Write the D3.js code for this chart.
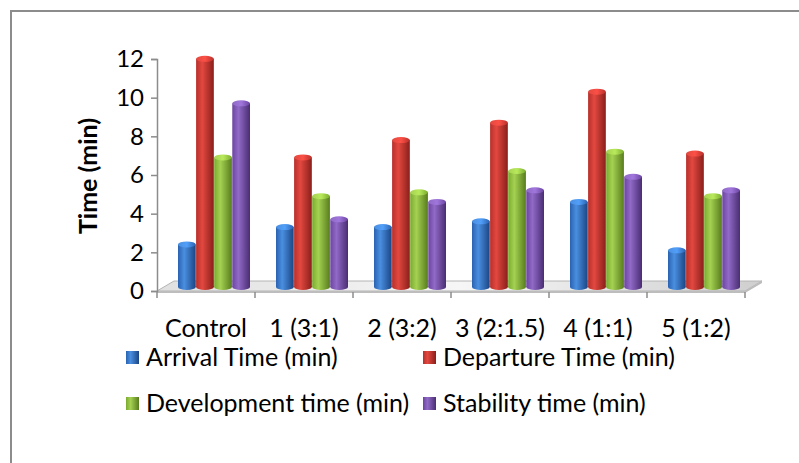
<!DOCTYPE html>
<html>
<head>
<meta charset="utf-8">
<script src="https://cdn.jsdelivr.net/npm/d3@7"></script>
<style>
  body { margin: 0; background: #fff; }
  text { font-family: Lato, "Open Sans", sans-serif; fill: #000; }
</style>
</head>
<body>
<div id="chart"></div>
<script>
// chart data
var categories = ["Control", "1 (3:1)", "2 (3:2)", "3 (2:1.5)", "4 (1:1)", "5 (1:2)"];
var seriesNames = ["Arrival Time (min)", "Departure Time (min)", "Development time (min)", "Stability time (min)"];
var arrival     = [2.2, 3.1, 3.1, 3.4, 4.4, 1.9];
var departure   = [11.8, 6.7, 7.6, 8.5, 10.1, 6.9];
var development = [6.7, 4.7, 4.9, 6.0, 7.0, 4.7];
var stability   = [9.5, 3.5, 4.4, 5.0, 5.7, 5.0];
var yTicks = [0, 2, 4, 6, 8, 10, 12];

var seriesValues = [arrival, departure, development, stability];
// [edge, highlight, dark edge]
var seriesColors = [
  ["#2a62b0", "#4a8fe0", "#1b4584"],
  ["#b8302c", "#e2483f", "#8a1f1b"],
  ["#7aab2e", "#a5d152", "#577d1d"],
  ["#6b45a0", "#906ac6", "#4a2d73"]
];

var width = 799, height = 463;
var svg = d3.select("#chart").append("svg")
  .attr("width", width)
  .attr("height", height);

var defs = svg.append("defs");
seriesColors.forEach(function(c, i) {
  var g = defs.append("linearGradient").attr("id", "cyl" + i)
    .attr("x1", 0).attr("x2", 1).attr("y1", 0).attr("y2", 0);
  g.append("stop").attr("offset", 0).attr("stop-color", c[0]);
  g.append("stop").attr("offset", 0.35).attr("stop-color", c[1]);
  g.append("stop").attr("offset", 1).attr("stop-color", c[2]);
  var t = defs.append("linearGradient").attr("id", "top" + i)
    .attr("x1", 0).attr("x2", 1).attr("y1", 0).attr("y2", 0);
  t.append("stop").attr("offset", 0).attr("stop-color", c[1]);
  t.append("stop").attr("offset", 0.5).attr("stop-color", d3.color(c[1]).brighter(0.3));
  t.append("stop").attr("offset", 1).attr("stop-color", c[0]);
});
var fg = defs.append("linearGradient").attr("id", "floor")
  .attr("x1", 0).attr("x2", 1).attr("y1", 0).attr("y2", 0);
fg.append("stop").attr("offset", 0).attr("stop-color", "#e0e0e0");
fg.append("stop").attr("offset", 0.5).attr("stop-color", "#f6f6f6");
fg.append("stop").attr("offset", 1).attr("stop-color", "#cfcfcf");

// outer frame (only left and top visible)
svg.append("path")
  .attr("d", "M11," + height + "V11H" + width)
  .attr("fill", "none")
  .attr("stroke", "#8c8c8c")
  .attr("stroke-width", 2);

var y = d3.scaleLinear().domain([0, 12]).range([291, 59]);
var x = d3.scaleBand().domain(categories).range([157, 745]).padding(0);
var inner = d3.scaleBand().domain(d3.range(seriesNames.length)).range([0, 72]).paddingInner(0.02);
var groupOffset = (x.bandwidth() - 72) / 2;

var depthX = 17, depthY = -10;   // floor depth
var barDx = 8, barDy = -4;       // bars sit mid depth

// floor slab
var x0 = 157, x1 = 745, yf = y(0);
svg.append("path")
  .attr("d", "M" + x0 + "," + yf + "L" + x1 + "," + yf + "L" + (x1 + depthX) + "," + (yf + depthY) +
    "L" + (x0 + depthX) + "," + (yf + depthY) + "Z")
  .attr("fill", "url(#floor)")
  .attr("stroke", "#b4b4b4")
  .attr("stroke-width", 1);
svg.append("path")
  .attr("d", "M" + x0 + "," + yf + "L" + x1 + "," + yf + "L" + (x1 + depthX) + "," + (yf + depthY) +
    "L" + (x1 + depthX) + "," + (yf + depthY + 2) + "L" + x1 + "," + (yf + 2) + "L" + x0 + "," + (yf + 2) + "Z")
  .attr("fill", "#bdbdbd");

// y axis
var yAxis = d3.axisLeft(y).tickValues(yTicks).tickSize(6).tickPadding(7);
var ya = svg.append("g").attr("transform", "translate(" + x0 + ",0)").call(yAxis);
ya.select(".domain").attr("stroke", "#8c8c8c").attr("stroke-width", 1.5);
ya.selectAll(".tick line").attr("stroke", "#8c8c8c").attr("stroke-width", 1.5);
ya.selectAll(".tick text").style("font-size", "24px").attr("fill", "#000");

// x axis ticks at category boundaries
var bounds = categories.map(function(c) { return x(c); }).concat([x1]);
svg.append("g").selectAll("line").data(bounds).enter().append("line")
  .attr("x1", function(d) { return d; })
  .attr("x2", function(d) { return d; })
  .attr("y1", yf + 1)
  .attr("y2", yf + 7)
  .attr("stroke", "#8c8c8c")
  .attr("stroke-width", 1.5);

svg.append("g").selectAll("text").data(categories).enter().append("text")
  .attr("x", function(d) { return x(d) + x.bandwidth() / 2; })
  .attr("y", 337)
  .attr("text-anchor", "middle")
  .style("font-size", "25px")
  .text(function(d) { return d; });

// bars as cylinders
var bars = [];
categories.forEach(function(c, ci) {
  seriesValues.forEach(function(vals, si) {
    bars.push({ cat: c, s: si, v: vals[ci] });
  });
});

var ry = 3;
var bg = svg.append("g").selectAll("g").data(bars).enter().append("g");
bg.each(function(d) {
  var g = d3.select(this);
  var bx = x(d.cat) + groupOffset + inner(d.s) + barDx;
  var bw = inner.bandwidth();
  var top = y(d.v) + barDy;
  var base = y(0) + barDy;
  g.append("ellipse")
    .attr("cx", bx + bw / 2).attr("cy", base)
    .attr("rx", bw / 2).attr("ry", ry)
    .attr("fill", "url(#cyl" + d.s + ")");
  g.append("rect")
    .attr("x", bx).attr("y", top)
    .attr("width", bw).attr("height", base - top)
    .attr("fill", "url(#cyl" + d.s + ")");
  g.append("ellipse")
    .attr("cx", bx + bw / 2).attr("cy", top)
    .attr("rx", bw / 2).attr("ry", ry)
    .attr("fill", "url(#top" + d.s + ")");
});

// y title
svg.append("text")
  .attr("transform", "translate(97,176) rotate(-90)")
  .attr("text-anchor", "middle")
  .style("font-size", "25px")
  .style("font-weight", "bold")
  .text("Time (min)");

// legend
var legendPos = [[126, 357], [423, 357], [126, 403], [423, 403]];
var lg = svg.append("g").selectAll("g").data(seriesNames).enter().append("g")
  .attr("transform", function(d, i) { return "translate(" + legendPos[i][0] + "," + legendPos[i][1] + ")"; });
lg.append("rect")
  .attr("x", 0).attr("y", -6)
  .attr("width", 13).attr("height", 13)
  .attr("fill", function(d, i) { return "url(#cyl" + i + ")"; });
lg.append("text")
  .attr("x", 20).attr("y", 9)
  .style("font-size", "25px")
  .text(function(d) { return d; });
</script>
</body>
</html>
